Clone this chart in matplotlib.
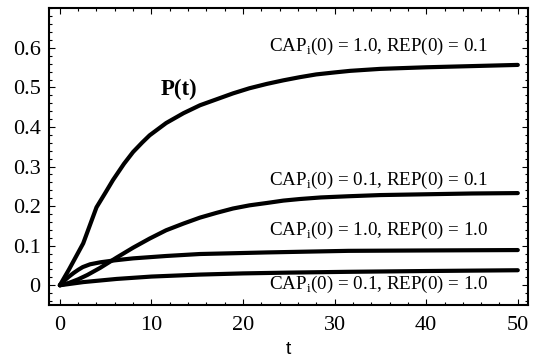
import numpy as np
import matplotlib.pyplot as plt
from matplotlib.ticker import MultipleLocator

# values
t_top = [0, 1, 2.55, 4.0, 5.0, 5.8, 7.0, 8.0, 9.0, 9.8, 11.6, 13.5, 15.3, 17.1, 18.9, 20.7,
         22.6, 24.4, 26.2, 28.0, 30, 31.7, 35, 40, 45, 50]
p_top = [0, 0.04, 0.106, 0.197, 0.235, 0.266, 0.307, 0.337, 0.361, 0.379, 0.41, 0.435, 0.455,
         0.47, 0.485, 0.498, 0.509, 0.518, 0.526, 0.533, 0.538, 0.542, 0.547, 0.551, 0.554, 0.557]

t_mid = [0, 1, 2, 3, 4.4, 6.2, 8, 9.8, 11.6, 13.5, 15.3, 17.1, 18.9, 20.7, 22.6, 24.4,
         26.2, 28.5, 31.5, 35, 40, 45, 50]
p_mid = [0, 0.006, 0.015, 0.026, 0.044, 0.07, 0.095, 0.118, 0.139, 0.156, 0.171, 0.183,
         0.194, 0.202, 0.208, 0.214, 0.218, 0.222, 0.225, 0.228, 0.23, 0.232, 0.233]

t_hi = [0, 0.5, 1, 1.5, 2, 2.5, 3.3, 4.4, 6, 8, 11.6, 15.3, 19, 22.6, 27, 31.5, 40, 50]
p_hi = [0, 0.012, 0.022, 0.031, 0.039, 0.046, 0.053, 0.058, 0.063, 0.068, 0.074, 0.079,
        0.081, 0.083, 0.085, 0.087, 0.088, 0.089]

t_low = [0, 2.55, 6.2, 10, 15.3, 20, 25, 31.5, 40, 50]
p_low = [0, 0.008, 0.016, 0.022, 0.027, 0.03, 0.032, 0.034, 0.036, 0.038]

labels = ['CAP$_\\mathrm{i}$(0) = 1.0, REP(0) = 0.1',
          'CAP$_\\mathrm{i}$(0) = 0.1, REP(0) = 0.1',
          'CAP$_\\mathrm{i}$(0) = 1.0, REP(0) = 1.0',
          'CAP$_\\mathrm{i}$(0) = 0.1, REP(0) = 1.0']
label_y = [0.603, 0.266, 0.139, 0.003]

xticks = [0, 10, 20, 30, 40, 50]
yticks = [0, 0.1, 0.2, 0.3, 0.4, 0.5, 0.6]
ytick_labels = ['0', '0.1', '0.2', '0.3', '0.4', '0.5', '0.6']

plt.rcParams['font.family'] = 'Liberation Serif'
plt.rcParams['mathtext.fontset'] = 'custom'
plt.rcParams['mathtext.rm'] = 'Liberation Serif'

fig = plt.figure(figsize=(5.37, 3.61), dpi=100)
ax = fig.add_axes([0.091, 0.155, 0.892, 0.823])

for t, p in [(t_top, p_top), (t_mid, p_mid), (t_hi, p_hi), (t_low, p_low)]:
    ax.plot(t, p, color='black', lw=3, solid_capstyle='round', solid_joinstyle='round')

for lab, y in zip(labels, label_y):
    ax.text(34.8, y, lab, ha='center', va='center', fontsize=13.7)
ax.text(13.0, 0.496, 'P(t)', ha='center', va='center', fontsize=16.5, fontweight='bold')

ax.set_xlim(-1.2, 51.1)
ax.set_ylim(-0.05, 0.701)
ax.set_xticks(xticks)
ax.set_xticklabels([str(x) for x in xticks])
ax.set_yticks(yticks)
ax.set_yticklabels(ytick_labels)
ax.xaxis.set_minor_locator(MultipleLocator(2))
ax.yaxis.set_minor_locator(MultipleLocator(0.02))
ax.tick_params(which='both', direction='in', top=True, right=True, labelsize=16, width=0.8)
ax.tick_params(which='major', length=4)
ax.tick_params(which='minor', length=2)
ax.tick_params(axis='x', pad=8)
ax.tick_params(axis='y', pad=6)
for s in ax.spines.values():
    s.set_linewidth(1.5)
ax.set_xlabel('t', fontsize=14, family='Liberation Sans', labelpad=4)

fig.savefig('out.png', dpi=100)
